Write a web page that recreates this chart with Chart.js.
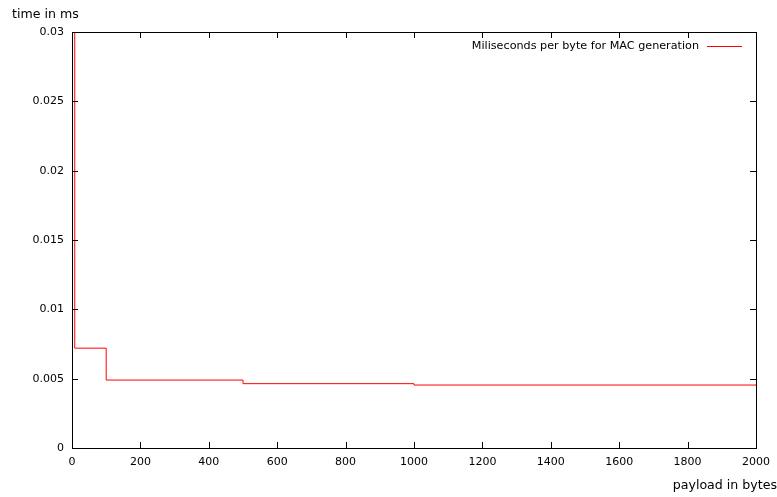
<!DOCTYPE html>
<html>
<head>
    <title>MAC generation time per byte</title>
    <script src="https://cdn.jsdelivr.net/npm/chart.js@4.4.0/dist/chart.umd.min.js"></script>
    <style>
        body { margin: 0; background: #fff; }
    </style>
</head>

<body>
    <canvas id="macChart" width="777" height="497"></canvas>

    <script>
        // data
        var payloadBytes = [1, 8, 100, 500, 1000, 2000];
        var msPerByte = [0.06, 0.0072, 0.0049, 0.00464, 0.00454, 0.0045];
        var seriesLabel = "Miliseconds per byte for MAC generation";

        var xTicks = [0, 200, 400, 600, 800, 1000, 1200, 1400, 1600, 1800, 2000];
        var yTicks = [0, 0.005, 0.01, 0.015, 0.02, 0.025, 0.03];
        var yTickLabels = ["0", "0.005", "0.01", "0.015", "0.02", "0.025", "0.03"];

        //Frame, inside ticks, legend and axis titles (gnuplot look)

        var gnuplotFrame = {
            id: "gnuplotFrame",
            afterDatasetsDraw: function(chart) {
                const ctx = chart.ctx;
                const a = chart.chartArea;
                const xs = chart.scales.x;
                const ys = chart.scales.y;
                ctx.save();
                ctx.strokeStyle = "#000";
                ctx.lineWidth = 1;
                ctx.strokeRect(Math.round(a.left) + 0.5, Math.round(a.top) + 0.5,
                    Math.round(a.right - a.left), Math.round(a.bottom - a.top));

                ctx.beginPath();
                xTicks.forEach(function(v) {
                    const px = Math.round(xs.getPixelForValue(v)) + 0.5;
                    ctx.moveTo(px, a.bottom); ctx.lineTo(px, a.bottom - 6);
                    ctx.moveTo(px, a.top); ctx.lineTo(px, a.top + 6);
                });
                yTicks.forEach(function(v) {
                    const py = Math.round(ys.getPixelForValue(v)) + 0.5;
                    ctx.moveTo(a.left, py); ctx.lineTo(a.left + 6, py);
                    ctx.moveTo(a.right, py); ctx.lineTo(a.right - 6, py);
                });
                ctx.stroke();

                // legend
                ctx.font = "11.2px 'DejaVu Sans'";
                ctx.fillStyle = "#000";
                ctx.textBaseline = "middle";
                ctx.textAlign = "right";
                ctx.fillText(seriesLabel, 699, 46);
                ctx.strokeStyle = chart.data.datasets[0].borderColor;
                ctx.beginPath();
                ctx.moveTo(707, 46.5); ctx.lineTo(742, 46.5);
                ctx.stroke();

                // axis titles
                ctx.font = "12.6px 'DejaVu Sans'";
                ctx.textAlign = "left";
                ctx.fillText("time in ms", 12, 15);
                ctx.textAlign = "right";
                ctx.fillText("payload in bytes", 777, 486);
                ctx.restore();
            }
        };

        new Chart("macChart", {
            type: "line",
            data: {
                datasets: [{
                    label: seriesLabel,
                    data: payloadBytes.map(function(x, i) { return {x: x, y: msPerByte[i]}; }),
                    borderColor: "#ff0000",
                    borderWidth: 1,
                    pointRadius: 0,
                    stepped: "before",
                    fill: false,
                    clip: 0
                }]
            },
            options: {
                responsive: false,
                animation: false,
                layout: { padding: { top: 32, right: 21, left: 0, bottom: 0 } },
                plugins: {
                    legend: { display: false },
                    tooltip: { enabled: false }
                },
                scales: {
                    x: {
                        type: "linear",
                        min: 0,
                        max: 2000,
                        grid: { display: false },
                        border: { display: false },
                        afterBuildTicks: function(scale) {
                            scale.ticks = xTicks.map(function(v) { return {value: v}; });
                        },
                        afterFit: function(scale) { scale.height = 49; },
                        ticks: {
                            color: "#000",
                            font: { family: "DejaVu Sans", size: 11 },
                            padding: 0,
                            maxRotation: 0,
                            autoSkip: false,
                            callback: function(value) { return String(value); }
                        }
                    },
                    y: {
                        min: 0,
                        max: 0.03,
                        grid: { display: false },
                        border: { display: false },
                        afterBuildTicks: function(scale) {
                            scale.ticks = yTicks.map(function(v) { return {value: v}; });
                        },
                        afterFit: function(scale) { scale.width = 72; },
                        ticks: {
                            color: "#000",
                            font: { family: "DejaVu Sans", size: 11 },
                            padding: 0,
                            autoSkip: false,
                            callback: function(value, index) { return yTickLabels[index]; }
                        }
                    }
                }
            },
            plugins: [gnuplotFrame]
        });
    </script>
</body>
</html>
